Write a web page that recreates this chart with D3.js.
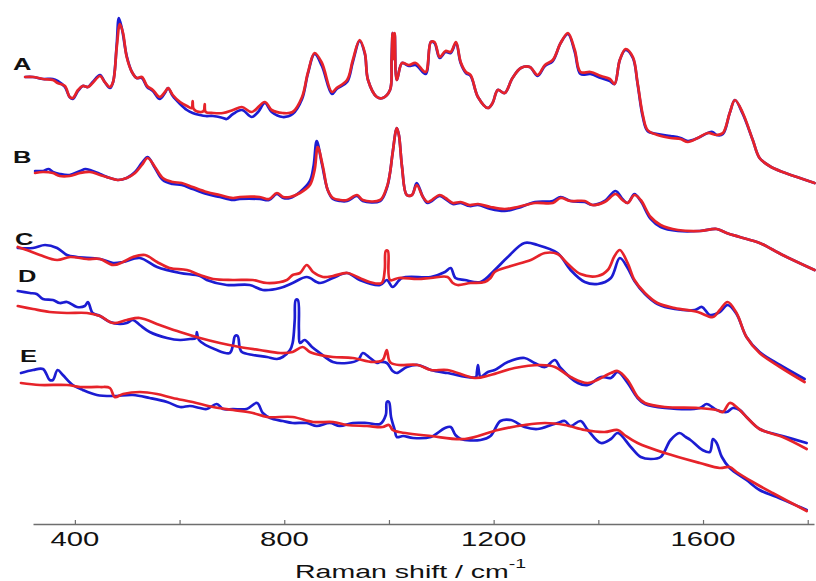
<!DOCTYPE html>
<html>
<head>
<meta charset="utf-8">
<script src="https://cdn.jsdelivr.net/npm/d3@7/dist/d3.min.js"></script>
<style>
  html, body { margin: 0; padding: 0; background: #fff; }
  svg { display: block; }
  text { font-family: "Liberation Sans", Arial, sans-serif; fill: #111; }
</style>
</head>
<body>
<svg id="chart" width="816" height="581"></svg>
<script>
// Raman spectra, stacked with vertical offsets (intensity in arbitrary units).
// Each series: [wavenumber (cm-1), offset intensity]

const blueA = [[305,447],[320,447],[339,445],[358,445],[367,443],[381,437],[390,427],[396,425],[406,433],[415,438],[425,437],[434,442],[448,449],[457,442],[467,436],[473,442],[480,480],[484,506],[490,495],[499,468],[509,452],[518,446],[528,446],[538,437],[549,433],[562,425],[572,431],[578,436],[587,428],[601,420],[614,414],[625,411],[639,409],[650,408],[664,408],[683,406],[690,405],[702,410],[719,414],[738,407],[750,412],[763,421],[776,412],[797,407],[816,410],[834,425],[845,450],[858,470],[872,458],[891,430],[900,435],[920,442],[931,462],[944,483],[954,470],[960,444],[977,427],[988,426],[1002,434],[1005,464],[1007,491],[1009,465],[1011,490],[1015,444],[1025,461],[1038,458],[1051,459],[1070,450],[1080,482],[1087,481],[1097,466],[1108,472],[1118,471],[1128,481],[1137,461],[1147,451],[1156,448],[1170,427],[1189,416],[1198,421],[1208,434],[1221,431],[1236,446],[1252,456],[1269,457],[1284,448],[1298,458],[1313,463],[1328,481],[1342,490],[1355,472],[1366,450],[1385,450],[1405,446],[1422,443],[1431,440],[1441,464],[1452,474],[1466,466],[1475,440],[1485,407],[1494,393],[1513,390],[1538,388],[1557,386],[1571,383],[1590,386],[1609,391],[1618,392],[1626,389],[1638,390],[1651,411],[1661,424],[1676,410],[1695,384],[1708,366],[1727,358],[1752,352],[1785,346],[1813,341]];

const redA = [[305,447],[320,447],[339,445],[358,444],[367,441],[381,438],[390,427],[396,426],[406,434],[415,438],[425,437],[434,441],[448,448],[457,442],[467,437],[473,442],[480,477],[486,500],[492,491],[499,467],[509,452],[518,446],[528,447],[538,438],[549,434],[562,427],[572,432],[578,436],[587,429],[601,422],[614,418],[623,416],[625,423],[627,415],[639,412],[646,413],[648,420],[650,412],[664,411],[683,411],[702,414],[719,417],[738,412],[763,422],[776,414],[797,411],[816,412],[834,427],[845,451],[858,471],[872,461],[891,432],[900,436],[920,444],[931,464],[944,484],[954,471],[960,444],[977,427],[988,426],[1002,434],[1005,464],[1007,491],[1009,465],[1011,491],[1015,444],[1025,461],[1038,459],[1051,461],[1070,452],[1080,482],[1087,482],[1097,467],[1108,473],[1118,472],[1128,482],[1137,462],[1147,452],[1156,449],[1170,427],[1189,416],[1198,421],[1208,434],[1221,431],[1236,446],[1252,456],[1269,457],[1284,449],[1298,459],[1313,464],[1328,481],[1342,491],[1355,474],[1366,452],[1385,452],[1405,448],[1422,445],[1431,440],[1441,464],[1452,475],[1466,467],[1475,441],[1485,409],[1494,394],[1513,389],[1538,386],[1557,385],[1571,382],[1590,386],[1609,391],[1626,389],[1638,391],[1651,411],[1661,424],[1676,411],[1695,384],[1708,366],[1727,358],[1752,352],[1785,346],[1813,341]];

const blueB = [[324,353],[339,353],[350,355],[358,352],[371,350],[390,349],[410,353],[420,355],[429,354],[448,350],[467,346],[482,344],[499,346],[515,352],[528,361],[539,367],[553,356],[568,344],[587,340],[604,339],[625,335],[652,330],[677,327],[702,324],[715,325],[753,325],[771,324],[786,330],[798,326],[811,326],[830,332],[849,343],[856,358],[862,383],[872,360],[883,334],[893,325],[907,323],[920,323],[939,328],[950,323],[983,323],[996,336],[1002,351],[1007,371],[1015,396],[1019,389],[1025,357],[1034,329],[1044,329],[1053,341],[1065,327],[1074,321],[1097,328],[1108,325],[1122,320],[1137,321],[1154,318],[1170,319],[1194,315],[1221,313],[1246,316],[1279,322],[1313,323],[1328,327],[1347,323],[1374,322],[1389,319],[1412,323],[1433,333],[1446,325],[1456,321],[1469,330],[1481,323],[1500,305],[1519,297],[1552,293],[1594,293],[1626,295],[1645,291],[1670,287],[1708,281],[1752,269],[1813,254]];

const redB = [[324,351],[339,352],[358,351],[371,348],[390,348],[410,351],[429,352],[448,349],[467,346],[482,344],[499,346],[515,351],[528,359],[539,366],[553,357],[568,346],[587,342],[604,341],[625,337],[652,332],[677,329],[702,326],[715,327],[753,327],[771,325],[786,331],[798,327],[811,327],[830,331],[849,339],[858,354],[864,377],[874,357],[883,334],[893,326],[907,324],[920,324],[939,329],[950,324],[983,324],[996,337],[1002,351],[1007,371],[1015,396],[1019,389],[1025,357],[1034,329],[1044,329],[1053,339],[1065,327],[1074,322],[1097,329],[1108,326],[1122,321],[1137,322],[1154,319],[1170,320],[1194,317],[1221,315],[1246,317],[1279,321],[1313,321],[1328,326],[1347,323],[1374,323],[1389,319],[1412,322],[1433,330],[1446,324],[1456,321],[1469,329],[1481,324],[1500,307],[1519,299],[1552,294],[1594,293],[1626,295],[1645,291],[1670,287],[1708,281],[1752,269],[1813,254]];

const blueC = [[291,276],[320,276],[343,279],[366,276],[385,269],[404,267],[448,265],[473,261],[492,262],[524,266],[557,257],[601,251],[639,248],[652,244],[690,239],[734,239],[759,234],[792,236],[816,241],[843,247],[868,241],[893,246],[920,251],[944,244],[983,239],[996,244],[1007,237],[1025,246],[1080,247],[1107,252],[1118,256],[1127,246],[1145,244],[1175,242],[1202,254],[1227,267],[1259,281],[1284,279],[1322,271],[1347,254],[1374,242],[1399,240],[1424,246],[1441,266],[1456,256],[1469,243],[1489,230],[1513,220],[1546,215],[1584,214],[1598,217],[1613,209],[1632,212],[1647,219],[1664,210],[1683,187],[1708,172],[1747,159],[1794,145]];

const redC = [[291,277],[308,274],[333,269],[366,264],[391,267],[423,265],[448,265],[473,259],[492,262],[511,267],[534,269],[557,262],[581,256],[614,254],[639,249],[664,245],[702,244],[740,244],[767,241],[805,244],[816,249],[830,251],[843,259],[855,252],[874,247],[893,248],[920,251],[944,246],[963,242],[986,241],[992,254],[994,273],[998,273],[1002,244],[1019,246],[1055,245],[1080,246],[1112,247],[1122,241],[1131,239],[1156,241],[1183,242],[1194,246],[1202,252],[1233,258],[1271,264],[1298,271],[1322,270],[1342,260],[1366,250],[1399,248],[1418,254],[1431,268],[1441,274],[1456,261],[1469,244],[1489,231],[1513,221],[1546,216],[1590,212],[1619,207],[1632,214],[1647,222],[1664,211],[1683,187],[1708,171],[1747,157],[1794,142]];

const blueD = [[291,233],[314,231],[327,230],[339,225],[358,224],[371,221],[385,222],[404,217],[419,218],[425,222],[434,211],[448,208],[467,202],[486,200],[499,201],[511,204],[524,199],[543,192],[576,186],[601,184],[620,185],[631,186],[633,192],[637,184],[671,174],[696,171],[702,179],[706,188],[711,188],[715,176],[719,172],[740,169],[767,167],[786,165],[797,167],[811,174],[816,181],[820,204],[822,224],[826,224],[828,194],[830,181],[839,184],[853,177],[868,171],[893,162],[920,161],[941,164],[950,171],[964,166],[977,161],[983,162],[996,161],[1007,153],[1015,151],[1034,157],[1055,159],[1080,154],[1112,151],[1166,147],[1168,152],[1170,159],[1172,152],[1175,147],[1189,152],[1202,154],[1227,162],[1259,166],[1278,161],[1298,157],[1317,164],[1328,156],[1361,141],[1380,139],[1405,147],[1424,146],[1437,152],[1456,141],[1475,126],[1489,120],[1527,116],[1594,116],[1607,120],[1626,114],[1645,112],[1657,116],[1670,114],[1683,107],[1708,95],[1752,88],[1798,81]];

const redD = [[291,218],[320,215],[352,212],[385,211],[423,211],[448,208],[473,201],[499,204],[524,206],[562,199],[601,192],[639,186],[677,181],[715,177],[753,174],[792,171],[816,172],[835,177],[849,172],[868,169],[893,167],[931,166],[969,162],[988,164],[994,172],[996,174],[1000,164],[1004,161],[1019,159],[1055,159],[1080,154],[1112,154],[1164,146],[1194,149],[1240,156],[1290,159],[1317,157],[1347,147],[1380,141],[1424,151],[1437,153],[1456,144],[1475,127],[1489,121],[1527,117],[1591,116],[1626,114],[1638,112],[1651,121],[1664,117],[1683,107],[1708,95],[1752,87],[1798,75]];

const blueE = [[297,151],[320,154],[339,155],[352,144],[358,144],[367,154],[377,149],[396,139],[415,134],[442,129],[473,128],[511,129],[543,126],[576,122],[601,117],[620,118],[639,116],[652,115],[671,120],[683,115],[702,115],[728,115],[748,121],[759,111],[773,106],[797,103],[816,101],[843,101],[862,98],[887,101],[906,98],[931,101],[958,101],[983,100],[994,109],[996,122],[1000,122],[1004,107],[1011,94],[1015,87],[1027,88],[1046,86],[1080,87],[1107,96],[1118,97],[1127,89],[1137,85],[1175,84],[1194,88],[1213,103],[1233,104],[1259,97],[1284,95],[1310,99],[1322,101],[1336,103],[1347,98],[1366,103],[1380,94],[1405,81],[1424,85],[1437,91],[1462,77],[1481,67],[1500,65],[1519,67],[1538,84],[1555,91],[1567,87],[1576,84],[1599,74],[1613,72],[1619,85],[1626,81],[1636,67],[1651,56],[1683,44],[1708,34],[1741,27],[1785,17],[1798,14]];

const redE = [[297,141],[333,139],[385,139],[410,137],[448,137],[467,136],[476,127],[492,130],[524,132],[557,130],[587,126],[625,122],[664,117],[702,114],[740,111],[767,107],[816,107],[855,102],[893,102],[920,99],[958,98],[988,97],[1000,99],[1007,94],[1019,92],[1080,88],[1145,85],[1208,94],[1259,99],[1298,101],[1336,99],[1374,94],[1412,92],[1437,94],[1450,89],[1475,81],[1527,71],[1594,61],[1632,56],[1651,57],[1664,52],[1695,42],[1733,31],[1798,13]];

const seriesLabels = ["A", "B", "C", "D", "E"];
const labelAnchors = [[13, 70], [13, 163], [15, 245], [18, 282], [20, 362]];
const xTicks = [400, 600, 800, 1000, 1200, 1400, 1600, 1800];
const xTickLabels = [400, 800, 1200, 1600];

const spectra = [
  { blue: blueA, red: redA },
  { blue: blueB, red: redB },
  { blue: blueC, red: redC },
  { blue: blueD, red: redD },
  { blue: blueE, red: redE }
];

const svg = d3.select("#chart");

const x = d3.scaleLinear().domain([320, 1812]).range([33, 814]);
const y = d3.scaleLinear().domain([0, 520]).range([524, 4]);

const line = d3.line()
  .x(d => x(d[0]))
  .y(d => y(d[1]))
  .curve(d3.curveCatmullRom.alpha(0.5));

const BLUE = "#1c1cd2";
const RED = "#e6232a";

const plot = svg.append("g");
spectra.forEach(s => {
  plot.append("path").datum(s.blue)
    .attr("d", line).attr("fill", "none")
    .attr("stroke", BLUE).attr("stroke-width", 2.7)
    .attr("stroke-linejoin", "round").attr("stroke-linecap", "round");
  plot.append("path").datum(s.red)
    .attr("d", line).attr("fill", "none")
    .attr("stroke", RED).attr("stroke-width", 2.7)
    .attr("stroke-linejoin", "round").attr("stroke-linecap", "round");
});

// bottom axis: ticks point inward, labels every 400 cm-1
const axis = d3.axisBottom(x)
  .tickValues(xTicks)
  .tickSizeInner(-4)
  .tickSizeOuter(0)
  .tickFormat("");
const gx = svg.append("g").attr("transform", `translate(0,${y(0)})`).call(axis);
gx.select(".domain").attr("stroke", "#6e6e6e").attr("stroke-width", 1.3);
gx.selectAll(".tick line").attr("stroke", "#6e6e6e").attr("stroke-width", 1.2);

svg.append("g").selectAll("text")
  .data(xTickLabels)
  .join("text")
  .attr("transform", d => `translate(${x(d)},546) scale(1.5,1)`)
  .attr("text-anchor", "middle")
  .attr("font-size", 19.5)
  .text(d => d);

const title = svg.append("text")
  .attr("transform", "translate(295,578) scale(1.5,1)")
  .attr("font-size", 19)
  .text("Raman shift / cm");
title.append("tspan")
  .attr("font-size", 13)
  .attr("dy", -10)
  .text("-1");

svg.append("g").selectAll("text")
  .data(seriesLabels)
  .join("text")
  .attr("transform", (d, i) => `translate(${labelAnchors[i][0]},${labelAnchors[i][1]}) scale(1.5,1)`)
  .attr("font-size", 17)
  .attr("font-weight", "bold")
  .text(d => d);
</script>
</body>
</html>
